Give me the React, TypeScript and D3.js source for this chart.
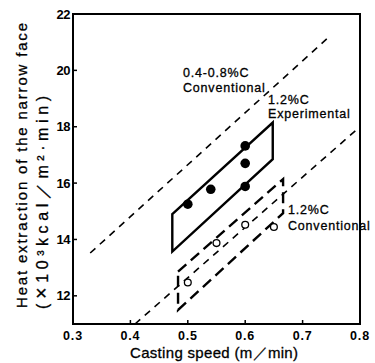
import React from 'react';
import * as d3 from 'd3';

// casting speed (m/min) vs heat extraction (x10^3 kcal/m2.min)
const filledSpeed = [0.5, 0.54, 0.6, 0.6, 0.6];
const filledHeat = [15.25, 15.78, 17.32, 16.7, 15.88];
const openSpeed = [0.5, 0.55, 0.6, 0.65];
const openHeat = [12.47, 13.87, 14.52, 14.44];

// 1.2%C experimental band (solid) : corners
const expSpeed = [0.473, 0.648, 0.648, 0.473];
const expHeat = [14.9, 18.15, 16.85, 13.57];
// 1.2%C conventional band (dashed)
const convSpeed = [0.483, 0.666, 0.666, 0.483];
const convHeat = [12.86, 16.14, 14.93, 11.5];

// 0.4-0.8%C conventional range limits
const limitSpeed = [[0.33, 0.744], [0.408, 0.8]];
const limitHeat = [[13.52, 21.15], [11.0, 18.0]];

const xTicks = [0.3, 0.4, 0.5, 0.6, 0.7, 0.8];
const yTicks = [12, 14, 16, 18, 20, 22];

const W = 375;
const H = 363;
const m = { left: 73, right: 15, top: 14, bottom: 39 };

const App: React.FC = () => {
  const x = d3.scaleLinear().domain([0.3, 0.8]).range([m.left, W - m.right]);
  const y = d3.scaleLinear().domain([11, 22]).range([H - m.bottom, m.top]);
  const line = d3.line<[number, number]>().x(d => x(d[0])).y(d => y(d[1]));
  const band = (xs: number[], ys: number[]) =>
    line(xs.map((v, i) => [v, ys[i]] as [number, number])) + 'Z';

  const font = 'Arial, "Liberation Sans", sans-serif';

  return (
    <div style={{ position: 'absolute', left: 0, top: 0 }}>
      <svg width={W} height={H} style={{ display: 'block', background: '#fff' }} fontFamily={font}>
        {/* limit lines */}
        {limitSpeed.map((xs, i) => (
          <path
            key={i}
            d={line(xs.map((v, j) => [v, limitHeat[i][j]] as [number, number])) || ''}
            fill="none"
            stroke="#000"
            strokeWidth={1.6}
            strokeDasharray="7,6"
          />
        ))}
        {/* bands */}
        <path d={band(expSpeed, expHeat)} fill="none" stroke="#000" strokeWidth={2.4} />
        <path d={band(convSpeed, convHeat)} fill="none" stroke="#000" strokeWidth={2.4} strokeDasharray="11,6" />

        {filledSpeed.map((v, i) => (
          <circle key={'f' + i} cx={x(v)} cy={y(filledHeat[i])} r={4.8} fill="#000" />
        ))}
        {openSpeed.map((v, i) => (
          <circle key={'o' + i} cx={x(v)} cy={y(openHeat[i])} r={3.4} fill="#fff" stroke="#000" strokeWidth={1.3} />
        ))}

        {/* frame */}
        <rect x={m.left} y={m.top} width={W - m.left - m.right} height={H - m.top - m.bottom}
          fill="none" stroke="#000" strokeWidth={2} />
        {xTicks.map(t => (
          <g key={'x' + t}>
            <line x1={x(t)} x2={x(t)} y1={y(11)} y2={y(11) - 4} stroke="#000" strokeWidth={1.5} />
            <text x={x(t)} y={340} textAnchor="middle" fontSize={12.5} fontWeight="bold" letterSpacing={0.8}>
              {t.toFixed(1)}
            </text>
          </g>
        ))}
        {yTicks.map(t => (
          <g key={'y' + t}>
            <line x1={m.left} x2={m.left + 4} y1={y(t)} y2={y(t)} stroke="#000" strokeWidth={1.5} />
            <text x={70} y={y(t) + 4.5} textAnchor="end" fontSize={13} fontWeight="bold" letterSpacing={-0.5}>
              {t}
            </text>
          </g>
        ))}

        {/* annotations */}
        <g fontSize={12.5} letterSpacing={0.8} stroke="#000" strokeWidth={0.3}>
          <text x={183} y={77}>0.4-0.8%C</text>
          <text x={183} y={92}>Conventional</text>
          <text x={268} y={104}>1.2%C</text>
          <text x={268} y={118}>Experimental</text>
          <text x={288} y={214}>1.2%C</text>
          <text x={288} y={230}>Conventional</text>
        </g>

        {/* axis titles */}
        <g stroke="#000" strokeWidth={0.3}>
          <text x={214} y={358} textAnchor="middle" fontSize={15} textLength={168} lengthAdjust="spacing">
            Casting speed  (m／min)
          </text>
          <text transform="translate(27,308) rotate(-90)" fontSize={15} textLength={285} lengthAdjust="spacing">
            Heat extraction of the narrow face
          </text>
          <text transform="translate(48,309) rotate(-90)" fontSize={16} textLength={213} lengthAdjust="spacing">
            (<tspan fontSize={20}>×</tspan>10³kcal／m²·min)
          </text>
        </g>
      </svg>
    </div>
  );
};

export default App;
